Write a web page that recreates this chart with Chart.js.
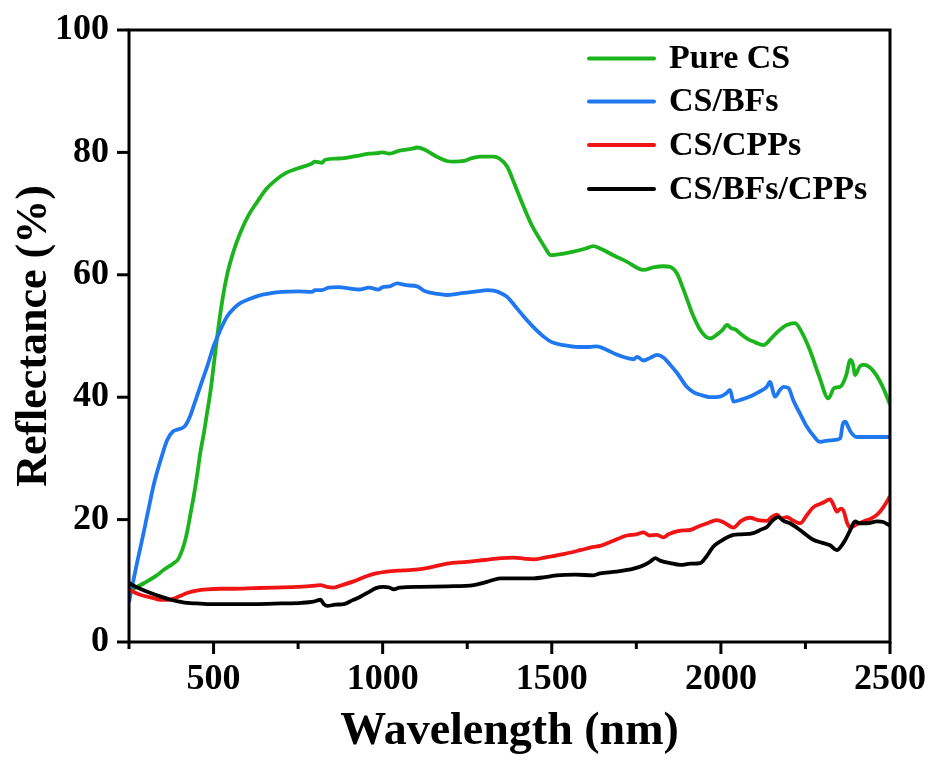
<!DOCTYPE html>
<html>
<head>
<meta charset="utf-8">
<script src="https://cdn.jsdelivr.net/npm/chart.js@4/dist/chart.umd.min.js"></script>
<style>
  html, body { margin: 0; padding: 0; background: #fff; }
  #wrap { width: 933px; height: 760px; }
</style>
</head>
<body>
<div id="wrap"><canvas id="c" width="933" height="760"></canvas></div>
<script>
// Diffuse reflectance spectra (wavelength in nm, reflectance in %)
const pureCsNm = [250,260,294,330,353,380,395,412,422,432,442,452,461,471,481,491,500,511,525,540,560,580,604,630,654,680,713,750,791,800,820,830,870,920,960,988,1000,1020,1050,1087,1102,1126,1160,1190,1210,1240,1260,1289,1328,1345,1368,1390,1417,1440,1466,1485,1496,1530,1564,1600,1623,1643,1682,1720,1771,1800,1830,1850,1870,1890,1919,1945,1968,1990,2005,2018,2030,2045,2057,2080,2100,2126,2150,2170,2195,2219,2240,2263,2290,2318,2335,2353,2370,2383,2390,2397,2410,2422,2440,2462,2480,2500];
const pureCsR  = [7.8,8.5,9.6,10.8,11.8,12.8,13.5,15.8,18,21,24,27.5,31,34,37.5,41,45,50,55.5,60,64,67,69.8,72,73.9,75.3,76.6,77.4,78.2,78.5,78.3,78.8,79.0,79.4,79.8,79.9,80.0,79.8,80.3,80.6,80.8,80.4,79.3,78.6,78.5,78.6,79.0,79.3,79.3,79.0,77.7,74.8,71.1,68.2,65.7,64,63.2,63.4,63.8,64.3,64.7,64.3,63.2,62.2,60.8,61.2,61.4,61.3,60.2,57.5,53.2,50.5,49.6,50.3,51.0,51.8,51.3,51.0,50.4,49.5,49.0,48.5,49.7,50.8,51.8,52.1,50.5,47.7,43.5,39.8,41.5,41.7,43.5,46.1,45.5,43.6,45.0,45.3,44.9,43.4,41.5,38.8];

const csBfNm = [250,262,274,290,305,324,345,363,380,393,405,417,430,445,461,481,500,511,525,540,560,580,604,634,670,700,750,791,800,820,840,870,900,930,960,988,1000,1020,1043,1070,1102,1126,1160,1190,1220,1249,1280,1310,1328,1350,1368,1390,1417,1445,1476,1500,1535,1580,1610,1633,1660,1690,1722,1742,1752,1771,1790,1811,1830,1850,1870,1899,1920,1939,1970,1998,2015,2027,2037,2060,2086,2110,2136,2145,2160,2175,2185,2200,2214,2235,2254,2275,2293,2315,2333,2353,2360,2368,2376,2383,2402,2450,2500];
const csBfR  = [6.5,9.8,13,17,21,25.9,30,33,34.4,34.7,34.9,35.4,36.8,39.2,41.8,45,48.3,49.8,51.6,53.2,54.5,55.4,56.0,56.6,57.0,57.2,57.3,57.2,57.5,57.5,57.9,58.0,57.8,57.6,57.9,57.6,58.0,58.1,58.6,58.3,58.1,57.3,56.9,56.7,56.9,57.1,57.3,57.5,57.4,57.0,56.4,55.0,53.2,51.5,49.9,49.0,48.5,48.2,48.2,48.3,47.8,47.0,46.4,46.2,46.6,46.0,46.4,46.9,46.5,45.3,44,41.7,40.8,40.4,40.0,40.1,40.6,41.2,39.3,39.6,40.1,40.8,41.7,42.5,40.1,41.2,41.7,41.5,39.5,37.2,35.2,33.6,32.7,32.9,33.0,33.3,35.5,36.0,35.2,34.4,33.5,33.5,33.5];

const csCppNm = [250,270,290,320,343,365,383,400,422,450,481,520,560,619,680,750,800,816,835,855,880,914,950,980,1013,1060,1111,1150,1190,1250,1300,1350,1387,1420,1446,1480,1530,1584,1620,1643,1680,1722,1750,1771,1790,1810,1830,1845,1880,1909,1930,1960,1988,2010,2037,2060,2086,2110,2136,2150,2165,2180,2195,2215,2234,2255,2273,2300,2323,2333,2343,2355,2363,2373,2383,2400,2422,2445,2462,2480,2500];
const csCppR  = [8.6,8.0,7.6,7.2,6.9,6.9,7.1,7.5,8.0,8.4,8.6,8.7,8.7,8.8,8.9,9.0,9.2,9.3,9.0,8.9,9.3,9.9,10.7,11.2,11.5,11.7,11.9,12.3,12.8,13.1,13.4,13.7,13.8,13.6,13.5,13.8,14.3,15.0,15.5,15.7,16.5,17.4,17.6,17.9,17.4,17.5,17.1,17.6,18.2,18.3,18.8,19.4,19.9,19.5,18.7,19.8,20.3,19.9,19.8,20.4,20.8,20.2,20.4,19.8,19.4,20.8,22.0,22.7,23.3,22.4,21.3,21.8,21.4,19.5,18.7,19.2,19.7,20.2,20.8,22.0,23.8];

const csBfCppNm = [250,275,304,340,373,400,422,450,481,550,619,700,760,796,816,826,836,860,885,910,934,960,980,1003,1020,1033,1050,1111,1190,1269,1300,1330,1348,1400,1446,1480,1515,1570,1623,1643,1690,1742,1770,1790,1806,1820,1850,1880,1910,1939,1955,1978,2000,2037,2060,2096,2120,2136,2150,2170,2185,2204,2234,2255,2273,2300,2323,2343,2355,2368,2380,2397,2410,2432,2462,2480,2500];
const csBfCppR  = [9.6,8.9,8.2,7.5,6.9,6.6,6.4,6.3,6.2,6.2,6.2,6.3,6.4,6.6,6.9,6.2,5.9,6.1,6.2,6.8,7.4,8.2,8.8,9.0,8.9,8.6,8.9,9.0,9.1,9.3,9.7,10.2,10.4,10.4,10.4,10.6,10.9,11.0,10.9,11.2,11.5,12.0,12.5,13.1,13.7,13.3,12.9,12.6,12.8,12.9,13.8,15.6,16.5,17.5,17.6,17.8,18.4,18.8,19.7,20.4,19.8,19.4,18.3,17.4,16.7,16.2,15.8,15.0,15.6,16.7,18.0,19.7,19.4,19.4,19.7,19.6,19.0];

// Axis ticks
const xMajorTicks = [500, 1000, 1500, 2000, 2500];
const xMinorTicks = [250, 750, 1250, 1750, 2250];
const yTicks = [0, 20, 40, 60, 80, 100];

const seriesLabels = ['Pure CS', 'CS/BFs', 'CS/CPPs', 'CS/BFs/CPPs'];
const seriesColors = ['#1cb41c', '#1f78f0', '#f01414', '#000000'];

const FONT = '"Liberation Serif", "Times New Roman", serif';

const toPoints = (xs, ys) => xs.map((v, i) => ({ x: v, y: ys[i] }));
const seriesData = [
  toPoints(pureCsNm, pureCsR),
  toPoints(csBfNm, csBfR),
  toPoints(csCppNm, csCppR),
  toPoints(csBfCppNm, csBfCppR)
];

// Plot frame plus outward tick marks
const frameAndTicks = {
  id: 'frameAndTicks',
  afterDatasetsDraw(chart) {
    const { ctx, chartArea: a, scales: { x, y } } = chart;
    ctx.save();
    ctx.strokeStyle = '#000';
    ctx.lineWidth = 3;
    ctx.lineCap = 'square';
    ctx.strokeRect(a.left, a.top, a.right - a.left, a.bottom - a.top);
    ctx.lineCap = 'butt';
    const seg = (x1, y1, x2, y2) => { ctx.beginPath(); ctx.moveTo(x1, y1); ctx.lineTo(x2, y2); ctx.stroke(); };
    xMajorTicks.forEach(v => { const px = x.getPixelForValue(v); seg(px, a.bottom, px, a.bottom + 12); });
    xMinorTicks.forEach(v => { const px = x.getPixelForValue(v); seg(px, a.bottom, px, a.bottom + 7); });
    yTicks.forEach(v => { const py = y.getPixelForValue(v); seg(a.left - 12, py, a.left, py); });
    ctx.restore();
  }
};

// Legend drawn inside the upper right of the plot
const innerLegend = {
  id: 'innerLegend',
  afterDraw(chart) {
    const { ctx } = chart;
    const rows = [58.5, 101.5, 145, 189];
    ctx.save();
    ctx.font = 'bold 34px ' + FONT;
    ctx.textBaseline = 'middle';
    ctx.textAlign = 'left';
    chart.data.datasets.forEach((ds, i) => {
      const yy = rows[i];
      ctx.strokeStyle = ds.borderColor;
      ctx.lineWidth = 4;
      ctx.lineCap = 'round';
      ctx.beginPath(); ctx.moveTo(589, yy); ctx.lineTo(654, yy); ctx.stroke();
      ctx.fillStyle = '#000';
      ctx.fillText(ds.label, 669, yy + 1);
    });
    ctx.restore();
  }
};

new Chart(document.getElementById('c'), {
  type: 'line',
  data: {
    datasets: seriesLabels.map((lab, i) => ({
      label: lab,
      data: seriesData[i],
      borderColor: seriesColors[i],
      backgroundColor: seriesColors[i],
      borderWidth: 3.8,
      pointRadius: 0,
      cubicInterpolationMode: 'monotone',
      fill: false,
      order: 3 - i
    }))
  },
  options: {
    responsive: false,
    animation: false,
    devicePixelRatio: 1,
    layout: { padding: { top: 30, right: 43, left: 0, bottom: 0 } },
    plugins: { legend: { display: false }, tooltip: { enabled: false } },
    scales: {
      x: {
        type: 'linear',
        min: 250, max: 2500,
        afterBuildTicks: s => { s.ticks = xMajorTicks.map(v => ({ value: v })); },
        afterFit: s => { s.height = 118; s.paddingLeft = 0; s.paddingRight = 0; },
        grid: { display: false, drawTicks: false },
        border: { display: false },
        ticks: { color: '#000', padding: 16, maxRotation: 0, callback: v => String(v), font: { family: FONT, size: 36, weight: 'bold' } },
        title: { display: true, text: 'Wavelength (nm)', color: '#000', padding: { top: 0, bottom: 0 }, font: { family: FONT, size: 46, weight: 'bold', lineHeight: 1.2 } }
      },
      y: {
        min: 0, max: 100,
        afterBuildTicks: s => { s.ticks = yTicks.map(v => ({ value: v })); },
        afterFit: s => { s.width = 129; s.paddingTop = 0; s.paddingBottom = 0; },
        grid: { display: false, drawTicks: false },
        border: { display: false },
        ticks: { color: '#000', padding: 20, callback: v => String(v), font: { family: FONT, size: 36, weight: 'bold' } },
        title: { display: true, text: 'Reflectance (%)', color: '#000', padding: { top: 8, bottom: 0 }, font: { family: FONT, size: 44, weight: 'bold', lineHeight: 1.2 } }
      }
    }
  },
  plugins: [frameAndTicks, innerLegend]
});
</script>
</body>
</html>
